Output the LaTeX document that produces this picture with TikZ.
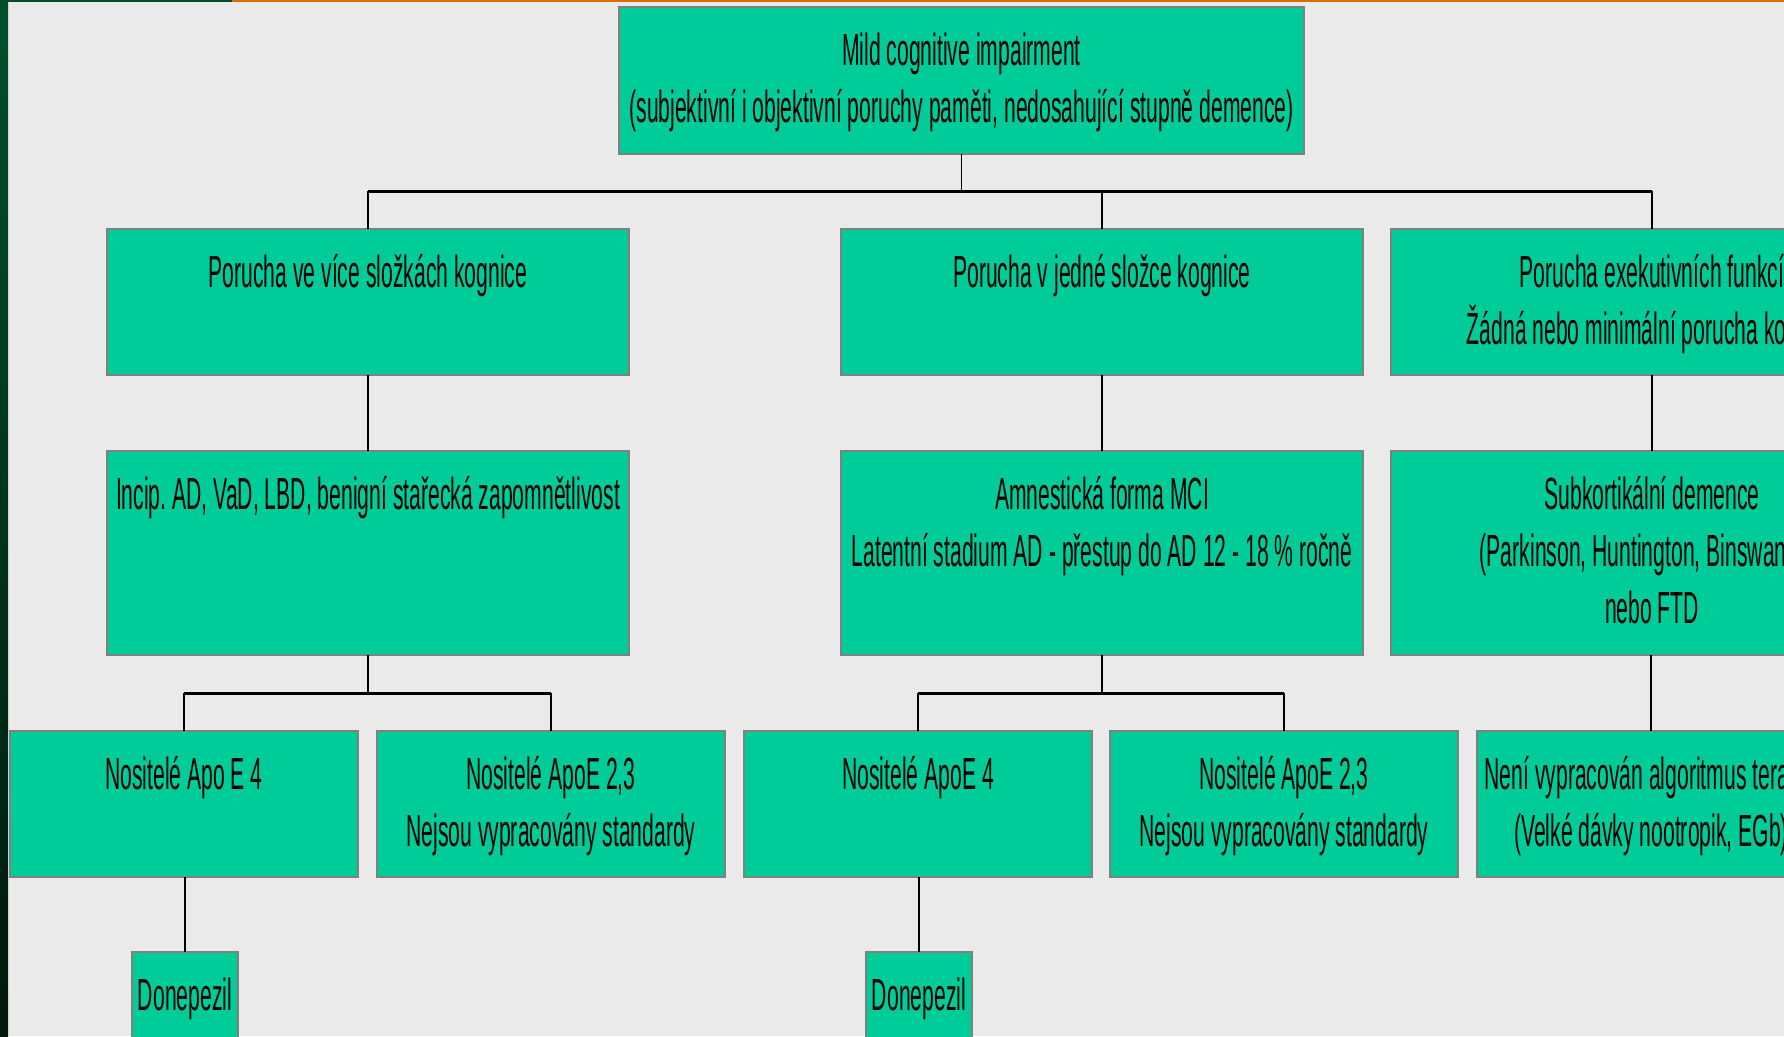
\documentclass[tikz,border=0pt]{standalone}
\usepackage{fontspec}
\setmainfont{Liberation Sans}[FakeStretch=0.47]
\frenchspacing
\definecolor{mcigreen}{RGB}{0,204,153}
\definecolor{boxgray}{RGB}{128,128,128}
\definecolor{slidebg}{RGB}{234,234,234}
\definecolor{stripetop}{RGB}{0,80,42}
\definecolor{stripemid}{RGB}{0,112,60}
\definecolor{stripebot}{RGB}{0,24,14}
\definecolor{rulegreen}{RGB}{0,77,38}
\definecolor{ruleorange}{RGB}{217,111,0}

\begin{document}
\begin{tikzpicture}[x=1pt,y=-1pt,
	box/.style={draw=boxgray,line width=2.5pt,fill=mcigreen,anchor=north west,inner sep=0pt,outer sep=0pt},
	topbox/.style={box,minimum width=685pt,minimum height=147pt},
	wide/.style={box,minimum width=522pt,minimum height=146pt},
	tall/.style={box,minimum width=522pt,minimum height=204pt},
	half/.style={box,minimum width=348pt,minimum height=146pt},
	drug/.style={box,minimum width=106pt,minimum height=146pt},
	txt/.style={anchor=north,inner sep=0pt,align=center,font=\fontsize{45}{57}\selectfont},
	stem/.style={draw=black,line width=1.5pt},
	bus/.style={draw=black,line width=3pt}]
\useasboundingbox (0,0) rectangle (1784,1036);
\clip (0,0) rectangle (1784,1036);
\fill[slidebg] (0,0) rectangle (1784,1036);
% slide frame
\shade[top color=stripetop,middle color=stripemid,bottom color=stripebot] (0,0) rectangle (8,1036);
\fill[rulegreen] (0,0) rectangle (232,1.5);
\fill[ruleorange] (232,0) rectangle (1784,1.5);

% boxes
\node[topbox] (mci) at (619,7) {};
\node[wide] (l1a) at (107,229) {};
\node[wide] (l1b) at (841,229) {};
\node[wide] (l1c) at (1391,229) {};
\node[tall] (l2a) at (107,451) {};
\node[tall] (l2b) at (841,451) {};
\node[tall] (l2c) at (1391,451) {};
\node[half] (l3a1) at (10,731) {};
\node[half] (l3a2) at (377,731) {};
\node[half] (l3b1) at (744,731) {};
\node[half] (l3b2) at (1110,731) {};
\node[half] (l3c) at (1477,731) {};
\node[drug] (dona) at (132,952) {};
\node[drug] (donb) at (866,952) {};

% texts
\node[txt] (mci-t) at ([yshift=-18pt]mci.north) {\strut Mild cognitive impairment\\(subjektivní i objektivní poruchy paměti, nedosahující stupně demence)};
\node[txt] (l1a-t) at ([yshift=-18pt]l1a.north) {\strut Porucha ve více složkách kognice};
\node[txt] (l1b-t) at ([yshift=-18pt]l1b.north) {\strut Porucha v jedné složce kognice};
\node[txt] (l1c-t) at ([yshift=-18pt]l1c.north) {\strut Porucha exekutivních funkcí\\Žádná nebo minimální porucha kognice};
\node[txt] (l2a-t) at ([yshift=-18pt]l2a.north) {\strut Incip. AD, VaD, LBD, benigní stařecká zapomnětlivost};
\node[txt] (l2b-t) at ([yshift=-18pt]l2b.north) {\strut Amnestická forma MCI\\Latentní stadium AD - přestup do AD 12 - 18 \% ročně};
\node[txt] (l2c-t) at ([yshift=-18pt]l2c.north) {\strut Subkortikální demence\\(Parkinson, Huntington, Binswanger)\\nebo FTD};
\node[txt] (l3a1-t) at ([yshift=-18pt]l3a1.north) {\strut Nositelé Apo E 4};
\node[txt] (l3a2-t) at ([yshift=-18pt]l3a2.north) {\strut Nositelé ApoE 2,3\\Nejsou vypracovány standardy};
\node[txt] (l3b1-t) at ([yshift=-18pt]l3b1.north) {\strut Nositelé ApoE 4};
\node[txt] (l3b2-t) at ([yshift=-18pt]l3b2.north) {\strut Nositelé ApoE 2,3\\Nejsou vypracovány standardy};
\node[txt] (l3c-t) at ([yshift=-18pt]l3c.north) {\strut Není vypracován algoritmus terapie\\(Velké dávky nootropik, EGb)};
\node[txt] (dona-t) at ([yshift=-18pt]dona.north) {\strut Donepezil};
\node[txt] (donb-t) at ([yshift=-18pt]donb.north) {\strut Donepezil};

% connectors
\coordinate (bus1) at (0,191);
\coordinate (bus2) at (0,693);
\draw[stem] (mci.south) -- (mci.south |- bus1);
\foreach \b in {l1a,l1b,l1c}
	\draw[stem] (\b.north) -- (\b.north |- bus1);
\draw[bus] (l1a.north |- bus1) -- (l1c.north |- bus1);
\foreach \b in {a,b,c}
	\draw[stem] (l1\b.south) -- (l2\b.north);
\foreach \b in {a,b} {
	\draw[stem] (l2\b.south) -- (l2\b.south |- bus2);
	\draw[stem] (l3\b1.north) -- (l3\b1.north |- bus2);
	\draw[stem] (l3\b2.north) -- (l3\b2.north |- bus2);
	\draw[bus] (l3\b1.north |- bus2) -- (l3\b2.north |- bus2);
}
\draw[stem] (l3c.north |- l2c.south) -- (l3c.north);
\draw[stem] (dona.north |- l3a1.south) -- (dona.north);
\draw[stem] (donb.north |- l3b1.south) -- (donb.north);
\end{tikzpicture}
\end{document}
